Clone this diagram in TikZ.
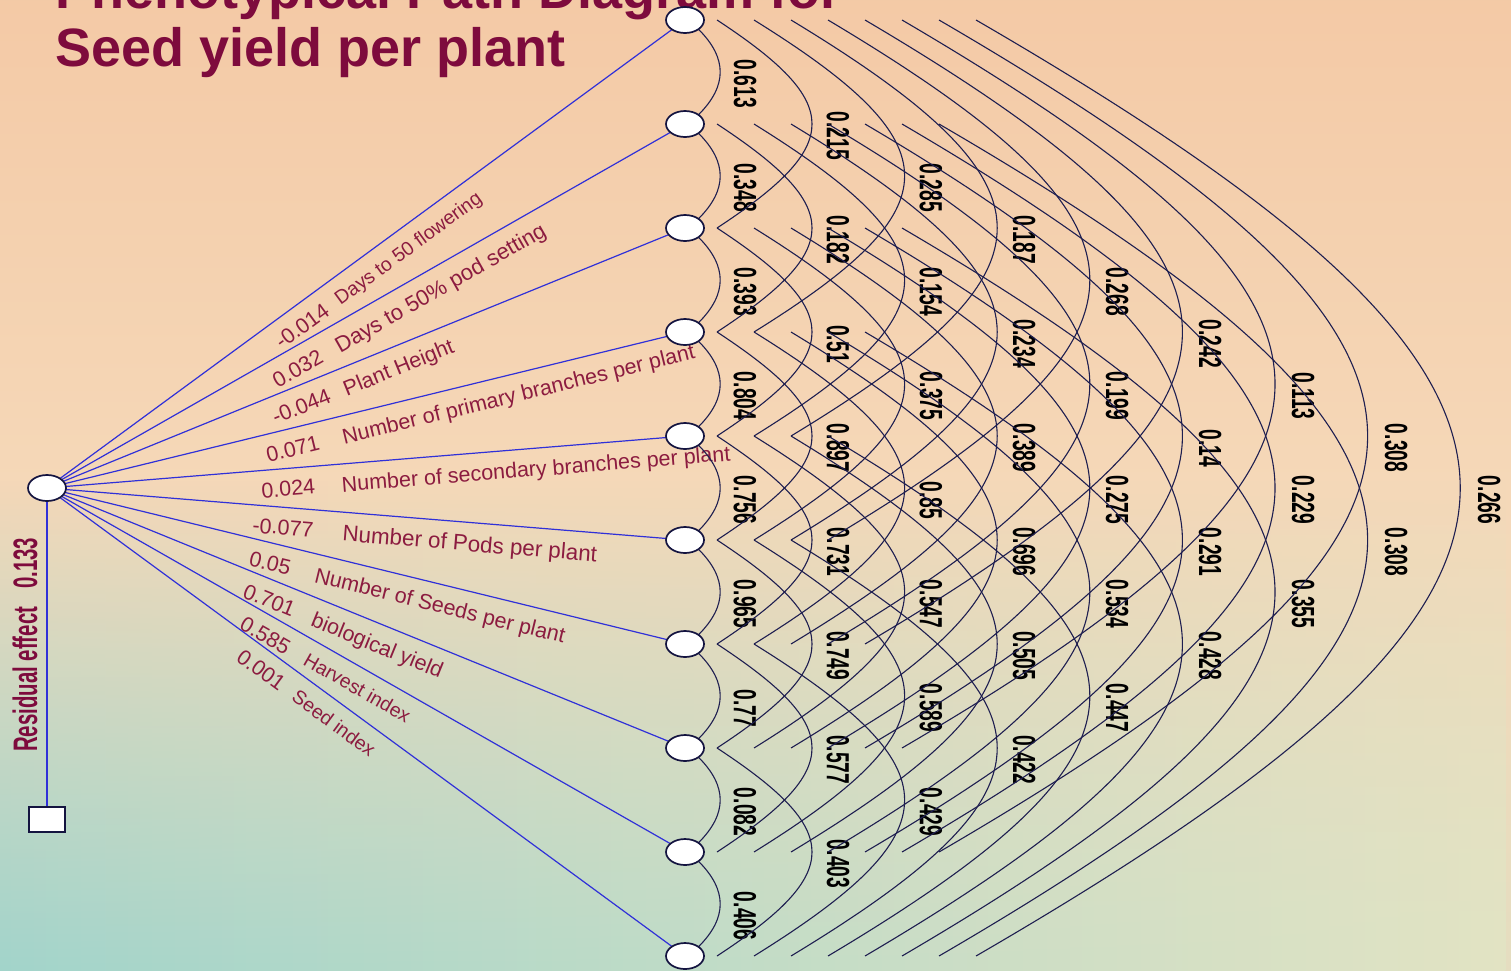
\documentclass[tikz,border=0pt]{standalone}
\usepackage{fontspec}
\setmainfont{Liberation Sans}
\newfontfamily\narrowfont[FakeStretch=0.6]{Liberation Sans}
\usepackage{tikz}
\usetikzlibrary{positioning,shapes.geometric,calc,fadings}
\definecolor{PathBlue}{HTML}{3030D8}
\definecolor{ArcNavy}{HTML}{1E1E50}
\definecolor{NodeNavy}{HTML}{141440}
\definecolor{LabelRed}{HTML}{8C1C40}
\definecolor{TitleRed}{HTML}{7E0B3D}
\definecolor{BgTop}{HTML}{F2BB94}
\definecolor{BgMid}{HTML}{F5D8B8}
\definecolor{BgLow}{HTML}{D4E2C8}
\definecolor{BgTeal}{HTML}{A2D4CB}
\definecolor{BgCream}{HTML}{E2E4C4}
\pgfdeclarelayer{bg}
\pgfdeclarelayer{wires}
\pgfsetlayers{bg,wires,main}
\pgfdeclareverticalshading{slidebg}{100bp}{color(0bp)=(BgLow); color(50bp)=(BgMid); color(100bp)=(BgTop)}

% correlation arc between two traits, value next to its apex
\newcommand{\corrarc}[3]{%
  \pgfmathtruncatemacro{\cgap}{#2-#1}%
  \ifnum\cgap=1
    \draw[corr] (v#1.south east) .. controls +(29,29) and +(29,-29) .. (v#2.north east);
  \else
    \pgfmathsetmacro{\cdx}{32+37*(\cgap-2)}%
    \pgfmathsetmacro{\cca}{(55.6*\cgap-16.2)/0.75}%
    \pgfmathsetmacro{\ccb}{41.6*\cgap}%
    \draw[corr] ([xshift=\cdx pt]v#1.center) .. controls +(\cca,\ccb) and +(\cca,-\ccb) .. ([xshift=\cdx pt]v#2.center);
  \fi
  \pgfmathsetmacro{\clx}{60+93*(\cgap-1)}%
  \node[corrval] at ($(v#1)!0.5!(v#2)+(\clx,12)$) {#3};
}

\begin{document}
\begin{tikzpicture}[
  x=1pt,y=-1pt,
  node distance=78pt,
  var/.style={ellipse,draw=NodeNavy,line width=1.7pt,fill=white,minimum width=38pt,minimum height=26pt,inner sep=0pt,outer sep=0pt},
  resbox/.style={rectangle,draw=NodeNavy,line width=1.7pt,fill=white,minimum width=36pt,minimum height=25pt,inner sep=0pt,outer sep=0pt},
  pathline/.style={draw=PathBlue,line width=1.2pt},
  corr/.style={draw=ArcNavy,line width=1.1pt},
  coef/.style={sloped,anchor=north west,text=LabelRed,font=\fontsize{21.5}{24}\selectfont,inner xsep=0pt,inner ysep=12pt},
  trait/.style={coef},
  smalltrait/.style={coef,font=\fontsize{19.5}{22}\selectfont},
  corrval/.style={rotate=-90,inner sep=0pt,font=\narrowfont\bfseries\fontsize{32}{34}\selectfont},
  residval/.style={rotate=90,anchor=south,inner xsep=0pt,inner ysep=9pt,text=TitleRed,font=\narrowfont\bfseries\fontsize{34}{36}\selectfont},
  title/.style={anchor=base west,inner sep=0pt,text=TitleRed,font=\bfseries\fontsize{54}{60}\selectfont}
]
  \useasboundingbox (0,0) rectangle (1511,970);
  \begin{pgfonlayer}{bg}
    \shade[shading=slidebg] (0,0) rectangle (1511,970);
    \shade[left color=BgTeal,right color=BgCream,path fading=north] (0,480) rectangle (1511,970);
  \end{pgfonlayer}

  \node[title] (ttl1) at (55,8) {Phenotypical Path Diagram for};
  \node[title] (ttl2) at (55,66) {Seed yield per plant};

  \node[var] (yield) at (47,488) {};
  \node[resbox,below=306pt of yield] (resid) {};

  \node[var] (v1) at (685,20) {};
  \node[var,below=of v1] (v2) {};
  \node[var,below=of v2] (v3) {};
  \node[var,below=of v3] (v4) {};
  \node[var,below=of v4] (v5) {};
  \node[var,below=of v5] (v6) {};
  \node[var,below=of v6] (v7) {};
  \node[var,below=of v7] (v8) {};
  \node[var,below=of v8] (v9) {};
  \node[var,below=of v9] (v10) {};

  \begin{pgfonlayer}{wires}
  \draw[pathline] (yield) -- (resid) node[residval,pos=0.47] {Residual effect\hspace{18pt}0.133};

  \draw[pathline] (yield) -- (v1) node[coef,pos=0.335] {-0.014} node[smalltrait,pos=0.432] {Days to 50 flowering};
  \draw[pathline] (yield) -- (v2) node[coef,pos=0.332] {0.032} node[trait,pos=0.434,font=\fontsize{22}{24}\selectfont] {Days to 50\% pod setting};
  \draw[pathline] (yield) -- (v3) node[coef,pos=0.333] {-0.044} node[trait,pos=0.45] {Plant Height};
  \draw[pathline] (yield) -- (v4) node[coef,pos=0.326] {0.071} node[trait,pos=0.452] {Number of primary branches per plant};
  \draw[pathline] (yield) -- (v5) node[coef,pos=0.322] {0.024} node[trait,pos=0.456] {Number of secondary branches per plant};
  \draw[pathline] (yield) -- (v6) node[coef,pos=0.313] {-0.077} node[trait,pos=0.463,font=\fontsize{22.4}{24}\selectfont] {Number of Pods per plant};
  \draw[pathline] (yield) -- (v7) node[coef,pos=0.314] {0.05} node[trait,pos=0.423] {Number of Seeds per plant};
  \draw[pathline] (yield) -- (v8) node[coef,pos=0.311] {0.701} node[trait,pos=0.424] {biological yield};
  \draw[pathline] (yield) -- (v9) node[coef,pos=0.312] {0.585} node[smalltrait,pos=0.416] {Harvest index};
  \draw[pathline] (yield) -- (v10) node[coef,pos=0.312] {0.001} node[smalltrait,pos=0.402] {Seed index};

  % neighbours
  \corrarc{1}{2}{0.613}
  \corrarc{2}{3}{0.348}
  \corrarc{3}{4}{0.393}
  \corrarc{4}{5}{0.804}
  \corrarc{5}{6}{0.756}
  \corrarc{6}{7}{0.965}
  \corrarc{7}{8}{0.77}
  \corrarc{8}{9}{0.082}
  \corrarc{9}{10}{0.406}
  % two apart
  \corrarc{1}{3}{0.215}
  \corrarc{2}{4}{0.182}
  \corrarc{3}{5}{0.51}
  \corrarc{4}{6}{0.897}
  \corrarc{5}{7}{0.731}
  \corrarc{6}{8}{0.749}
  \corrarc{7}{9}{0.577}
  \corrarc{8}{10}{0.403}
  % three apart
  \corrarc{1}{4}{0.285}
  \corrarc{2}{5}{0.154}
  \corrarc{3}{6}{0.375}
  \corrarc{4}{7}{0.85}
  \corrarc{5}{8}{0.547}
  \corrarc{6}{9}{0.589}
  \corrarc{7}{10}{0.429}
  % four apart
  \corrarc{1}{5}{0.187}
  \corrarc{2}{6}{0.234}
  \corrarc{3}{7}{0.389}
  \corrarc{4}{8}{0.696}
  \corrarc{5}{9}{0.505}
  \corrarc{6}{10}{0.422}
  % five apart
  \corrarc{1}{6}{0.268}
  \corrarc{2}{7}{0.199}
  \corrarc{3}{8}{0.275}
  \corrarc{4}{9}{0.534}
  \corrarc{5}{10}{0.447}
  % six and more apart
  \corrarc{1}{7}{0.242}
  \corrarc{2}{8}{0.14}
  \corrarc{3}{9}{0.291}
  \corrarc{4}{10}{0.428}
  \corrarc{1}{8}{0.113}
  \corrarc{2}{9}{0.229}
  \corrarc{3}{10}{0.355}
  \corrarc{1}{9}{0.308}
  \corrarc{2}{10}{0.308}
  \corrarc{1}{10}{0.266}
  \end{pgfonlayer}
\end{tikzpicture}
\end{document}
